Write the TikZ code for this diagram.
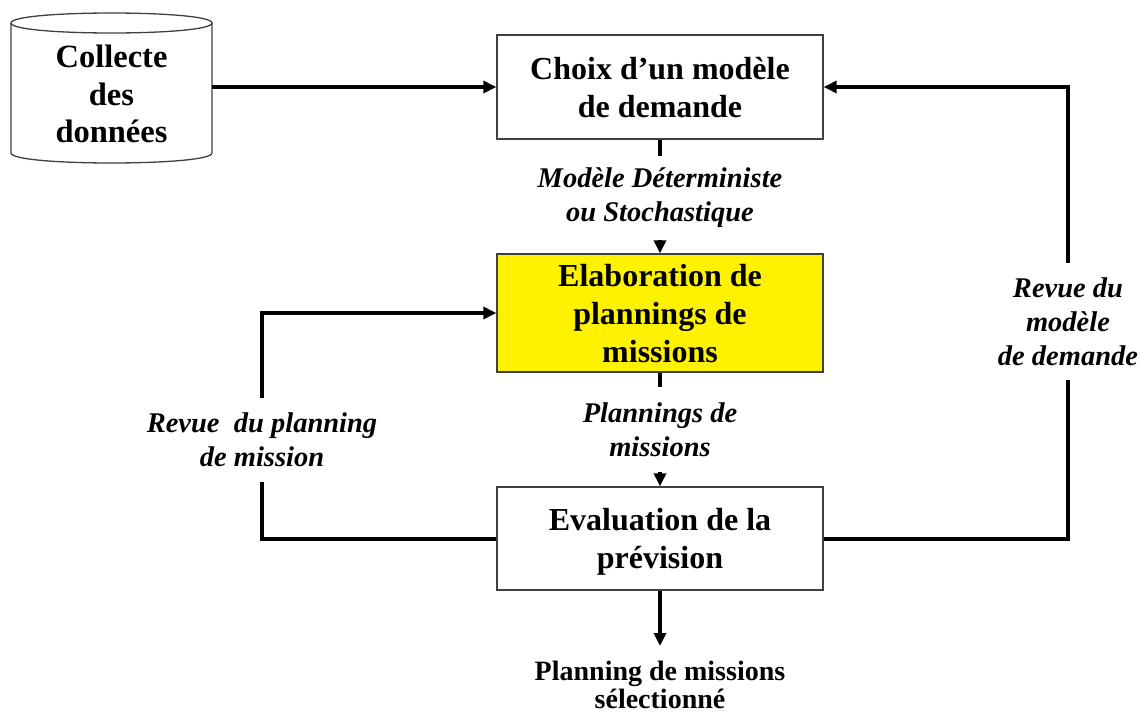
\documentclass[tikz,border=0pt]{standalone}
\usepackage{fontspec}
\setmainfont{Liberation Serif}
\usetikzlibrary{arrows.meta}
\tikzset{
  box/.style={draw=black!75, line width=1.3pt, minimum width=326pt, minimum height=104pt,
    align=center, inner sep=0pt, font=\bfseries\fontsize{32}{38}\selectfont},
  lab/.style={align=center, inner sep=0pt, font=\bfseries\itshape\fontsize{28.5}{34}\selectfont},
  line/.style={line width=4pt},
  conn/.style={line width=4pt, -{Triangle[length=13pt,width=12pt]}},
  cylline/.style={draw=black!75, line width=1.3pt},
}
\begin{document}
\begin{tikzpicture}[x=1pt,y=-1pt]
\useasboundingbox (0,0) rectangle (1142,715);
% cylinder
\draw[cylline] (11,23) -- (11,153) .. controls (11,166.33) and (212,166.33) .. (212,153) -- (212,23);
\draw[cylline] (11,23) .. controls (11,9.67) and (212,9.67) .. (212,23) .. controls (212,36.33) and (11,36.33) .. (11,23) -- cycle;
\node[minimum width=201pt, minimum height=120pt, inner sep=0pt, align=center,
      font=\bfseries\fontsize{32.5}{37.5}\selectfont] (cyl) at (111.5,94) {Collecte\\des\\données};
% boxes
\node[box] (b1) at (660,87) {Choix d’un modèle\\\raisebox{0pt}[\height][-6pt]{de demande}};
\node[box, fill=yellow, minimum height=118pt] (b2) at (660,313) {Elaboration de\\plannings de\\\raisebox{0pt}[\height][-3pt]{missions}};
\node[box, minimum height=103pt] (b3) at (660,538.5) {Evaluation de la\\\raisebox{0pt}[\height][-2pt]{prévision}};
% labels
\node[lab, minimum height=84pt] (l1) at (660,198) {Modèle Déterministe\\ou Stochastique};
\node[lab, minimum height=85pt] (l2) at (660,429.5) {Plannings de\\missions};
\node[lab, minimum height=84pt] (l3) at (262,440) {Revue\ \ du planning\\de mission};
\node[lab, minimum height=117pt] (l4) at (1068,321.5) {Revue du\\modèle\\de demande};
\node[anchor=north, align=center, inner sep=0pt,
      font=\bfseries\fontsize{28}{28}\selectfont] (fin) at (660,661) {Planning de missions\\sélectionné};
% connectors
\draw[conn] (cyl.east |- b1.west) -- (b1.west);
\draw[line] (b1.south) -- (l1.north);
\draw[conn] (l1.south) -- (b2.north);
\draw[line] (b2.south) -- (l2.north);
\draw[conn] (l2.south) -- (b3.north);
\draw[line] (b3.west) -| (l3.south);
\draw[conn] (l3.north) |- (b2.west);
\draw[line] (b3.east) -| (l4.south);
\draw[conn] (l4.north) |- (b1.east);
\draw[conn, shorten >=15pt] (b3.south) -- (fin.north);
\end{tikzpicture}
\end{document}
